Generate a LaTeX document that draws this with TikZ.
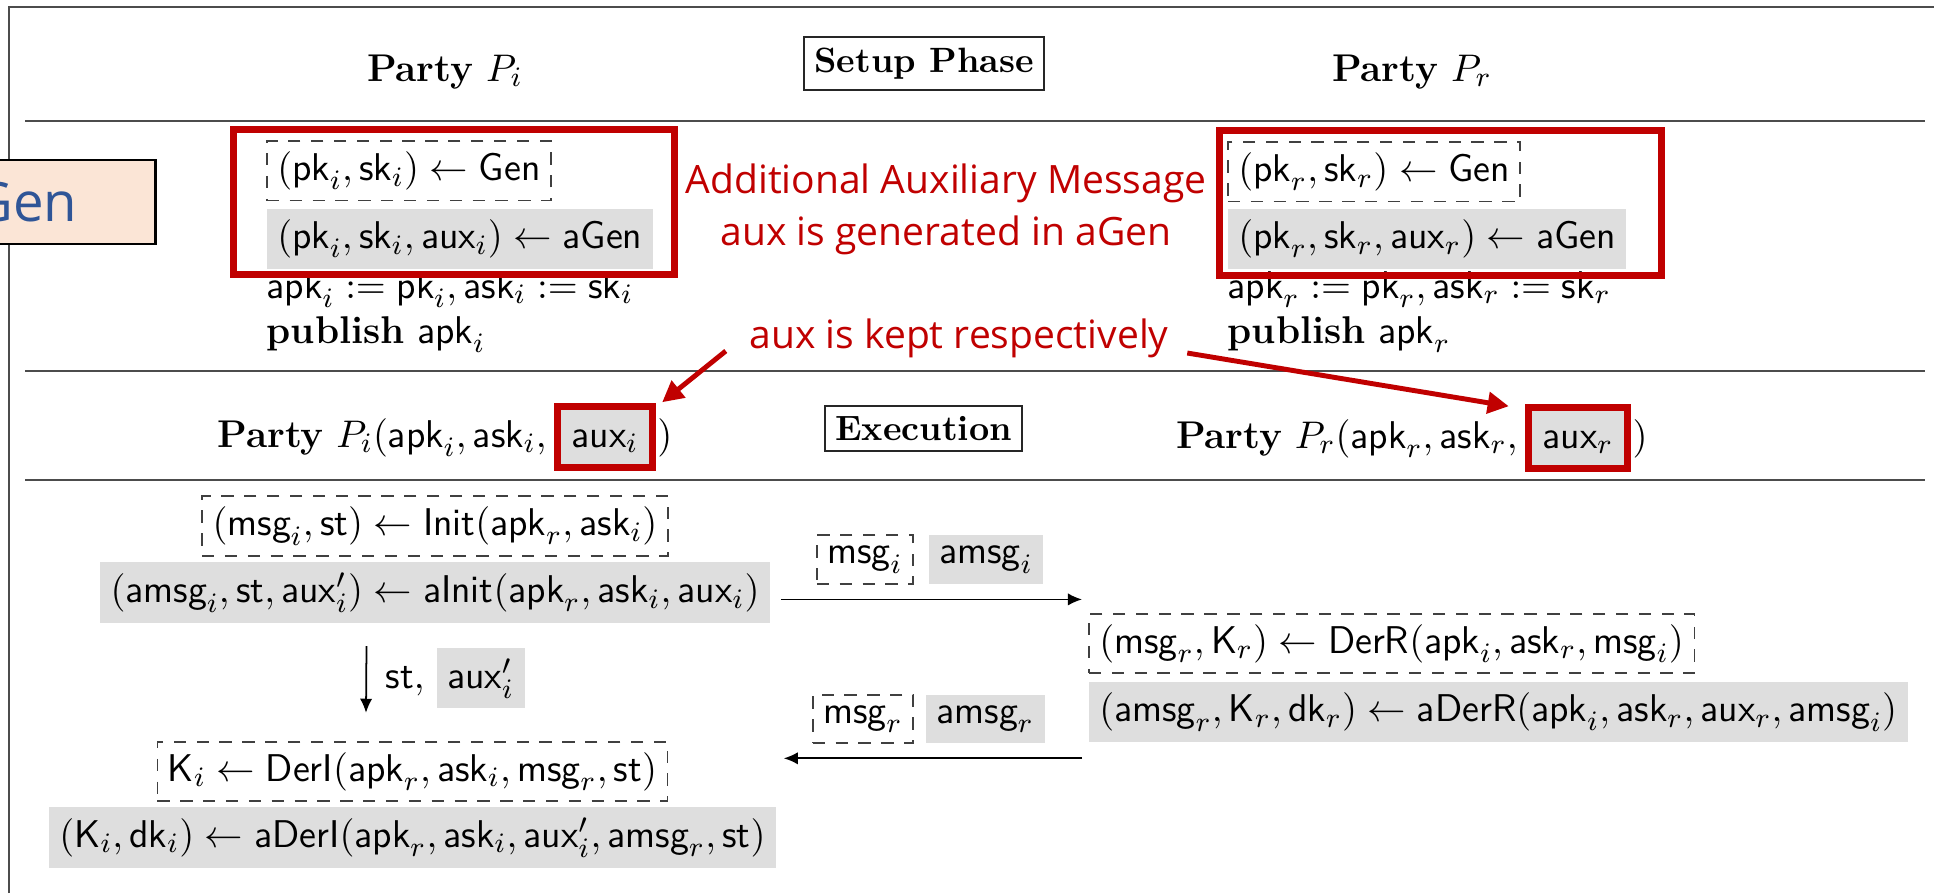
\documentclass[tikz,border=0pt]{standalone}
\usepackage{fontspec}
\newfontfamily\notefont{Open Sans}
\usetikzlibrary{arrows.meta,positioning,fit,calc}
\definecolor{hlred}{HTML}{C00000}
\definecolor{genfill}{HTML}{FBE5D6}
\definecolor{genblue}{HTML}{2F5597}
\tikzset{
  dbox/.style={draw=black!75, dash pattern=on 3.5pt off 3pt, line width=0.5pt, inner sep=3pt},
  gbox/.style={fill=black!13, inner sep=3pt},
  tall/.style={text height=8.25pt, text depth=2.75pt},
  phase/.style={draw=black!85, line width=0.6pt, inner sep=3pt, font=\bfseries},
  txt/.style={inner sep=0pt},
  rule/.style={draw=black!70, line width=0.7pt},
  hl/.style={draw=hlred, line width=2pt, inner ysep=0pt, inner xsep=0.03cm},
  hlarr/.style={draw=hlred, line width=1.4pt, -{Triangle[length=6pt,width=6pt]}},
  msgarr/.style={-{Latex[length=4pt,width=3.5pt]}, line width=0.5pt},
  note/.style={text=hlred, font=\notefont\fontsize{11.1}{14.8}\selectfont, inner sep=0pt, align=center}
}

\begin{document}
\begin{tikzpicture}[x=0.01cm, y=-0.01cm, font=\fontsize{11}{13.6}\selectfont]
  \useasboundingbox (0,0) rectangle (1934,893);

  % frame and rules
  \draw[rule] (9,893) -- (9,7) -- (1934,7);
  \draw[rule] (25,121) -- (1925,121);
  \draw[rule] (25,371) -- (1925,371);
  \draw[rule] (25,480) -- (1925,480);

  % setup phase
  \node[txt, anchor=base] (pi) at (445,81) {\textbf{Party} $P_i$};
  \node[phase] (setup) at (924,63.5) {Setup Phase};
  \node[txt, anchor=base] (pr) at (1412,81) {\textbf{Party} $P_r$};

  \node[dbox, anchor=north west] (geni) at (266,140) {$(\mathsf{pk}_i,\mathsf{sk}_i)\leftarrow\mathsf{Gen}$};
  \node[gbox, below right=0.07cm and 0cm of geni.south west] (ageni) {$(\mathsf{pk}_i,\mathsf{sk}_i,\mathsf{aux}_i)\leftarrow\mathsf{aGen}$};
  \node[txt, anchor=base west] (apki) at (266,298) {$\mathsf{apk}_i := \mathsf{pk}_i, \mathsf{ask}_i := \mathsf{sk}_i$};
  \node[txt, anchor=base west] (pubi) at (266,343) {\textbf{publish} $\mathsf{apk}_i$};

  \node[dbox, anchor=north west] (genr) at (1227,141) {$(\mathsf{pk}_r,\mathsf{sk}_r)\leftarrow\mathsf{Gen}$};
  \node[gbox, below right=0.06cm and 0cm of genr.south west] (agenr) {$(\mathsf{pk}_r,\mathsf{sk}_r,\mathsf{aux}_r)\leftarrow\mathsf{aGen}$};
  \node[txt, anchor=base west] (apkr) at (1227,298) {$\mathsf{apk}_r := \mathsf{pk}_r, \mathsf{ask}_r := \mathsf{sk}_r$};
  \node[txt, anchor=base west] (pubr) at (1227,343) {\textbf{publish} $\mathsf{apk}_r$};

  \draw[hl] ([shift={(-32.5,-10.5)}]geni.north west) rectangle ([shift={(20.5,5.5)}]ageni.south east);
  \draw[hl] ([shift={(-7.5,-10.5)}]genr.north west) rectangle ([shift={(34.5,6.5)}]agenr.south east);

  \node[note, anchor=north] (addnote) at (946,163) {Additional Auxiliary Message\\aux is generated in aGen};
  \node[note, anchor=base] (kept) at (959,348) {aux is kept respectively};

  % execution header
  \node[gbox, tall, anchor=base] (auxi) at (605,447) {$\mathsf{aux}_i$};
  \node[txt, anchor=base east] (hdi) at ([xshift=-3.7pt]auxi.base west) {\textbf{Party} $P_i(\mathsf{apk}_i,\mathsf{ask}_i,$};
  \node[txt, anchor=base west] (cli) at ([xshift=2pt]auxi.base east) {$)$};
  \node[hl, fit=(auxi)] (hli) {};

  \node[phase] (exec) at (923.5,428.5) {Execution};

  \node[gbox, tall, anchor=base] (auxr) at (1578,448) {$\mathsf{aux}_r$};
  \node[txt, anchor=base east] (hdr) at ([xshift=-3.7pt]auxr.base west) {\textbf{Party} $P_r(\mathsf{apk}_r,\mathsf{ask}_r,$};
  \node[txt, anchor=base west] (clr) at ([xshift=2pt]auxr.base east) {$)$};
  \node[hl, fit=(auxr)] (hlr) {};

  \draw[hlarr] ([shift={(-23,3)}]kept.base west) -- ([shift={(6,-1)}]hli.north east);
  \draw[hlarr] ([shift={(18,5)}]kept.base east) -- ([shift={(-16,2)}]hlr.north west);

  % execution, party i
  \node[dbox] (init) at (435,526) {$(\mathsf{msg}_i,\mathsf{st})\leftarrow\mathsf{Init}(\mathsf{apk}_r,\mathsf{ask}_i)$};
  \node[gbox, below=0.05cm of init] (ainit) {$(\mathsf{amsg}_i,\mathsf{st},\mathsf{aux}'_i)\leftarrow\mathsf{aInit}(\mathsf{apk}_r,\mathsf{ask}_i,\mathsf{aux}_i)$};

  \node[dbox] (deri) at (412.5,771.5) {$\mathsf{K}_i\leftarrow\mathsf{DerI}(\mathsf{apk}_r,\mathsf{ask}_i,\mathsf{msg}_r,\mathsf{st})$};
  \node[gbox, below=0.04cm of deri] (aderi) {$(\mathsf{K}_i,\mathsf{dk}_i)\leftarrow\mathsf{aDerI}(\mathsf{apk}_r,\mathsf{ask}_i,\mathsf{aux}'_i,\mathsf{amsg}_r,\mathsf{st})$};

  \draw[msgarr] ([shift={(-68.5,22)}]ainit.south) -- ([shift={(-46.5,-28)}]deri.north);
  \node[txt, anchor=base west] (stl) at (385,688) {$\mathsf{st},$};
  \node[gbox, tall, anchor=base west] (auxpi) at (436,688) {$\mathsf{aux}'_i$};

  % execution, party r
  \node[dbox, anchor=west] (derr) at (1088,643.5) {$(\mathsf{msg}_r,\mathsf{K}_r)\leftarrow\mathsf{DerR}(\mathsf{apk}_i,\mathsf{ask}_r,\mathsf{msg}_i)$};
  \node[gbox, below right=0.07cm and 0cm of derr.south west] (aderr) {$(\mathsf{amsg}_r,\mathsf{K}_r,\mathsf{dk}_r)\leftarrow\mathsf{aDerR}(\mathsf{apk}_i,\mathsf{ask}_r,\mathsf{aux}_r,\mathsf{amsg}_i)$};

  % messages
  \node[dbox] (msgi) at (865,559.5) {$\mathsf{msg}_i$};
  \node[gbox, right=0.14cm of msgi] (amsgi) {$\mathsf{amsg}_i$};
  \draw[msgarr] ([shift={(10,6.5)}]ainit.east) -- ([shift={(-6,6.5)}]ainit.east -| derr.west);

  \node[dbox] (msgr) at (863,719) {$\mathsf{msg}_r$};
  \node[gbox, right=0.11cm of msgr] (amsgr) {$\mathsf{amsg}_r$};
  \draw[msgarr] ([shift={(-6,16)}]aderr.south west) -- ([shift={(13,16)}]aderr.south west -| ainit.east);

  % clipped slide box
  \node[draw=black, line width=0.8pt, fill=genfill, text=genblue, font=\notefont\fontsize{15.5}{18}\selectfont,
    minimum width=2.6cm, minimum height=0.84cm, anchor=east] (gen) at (157,202) {Gen};
\end{tikzpicture}
\end{document}
